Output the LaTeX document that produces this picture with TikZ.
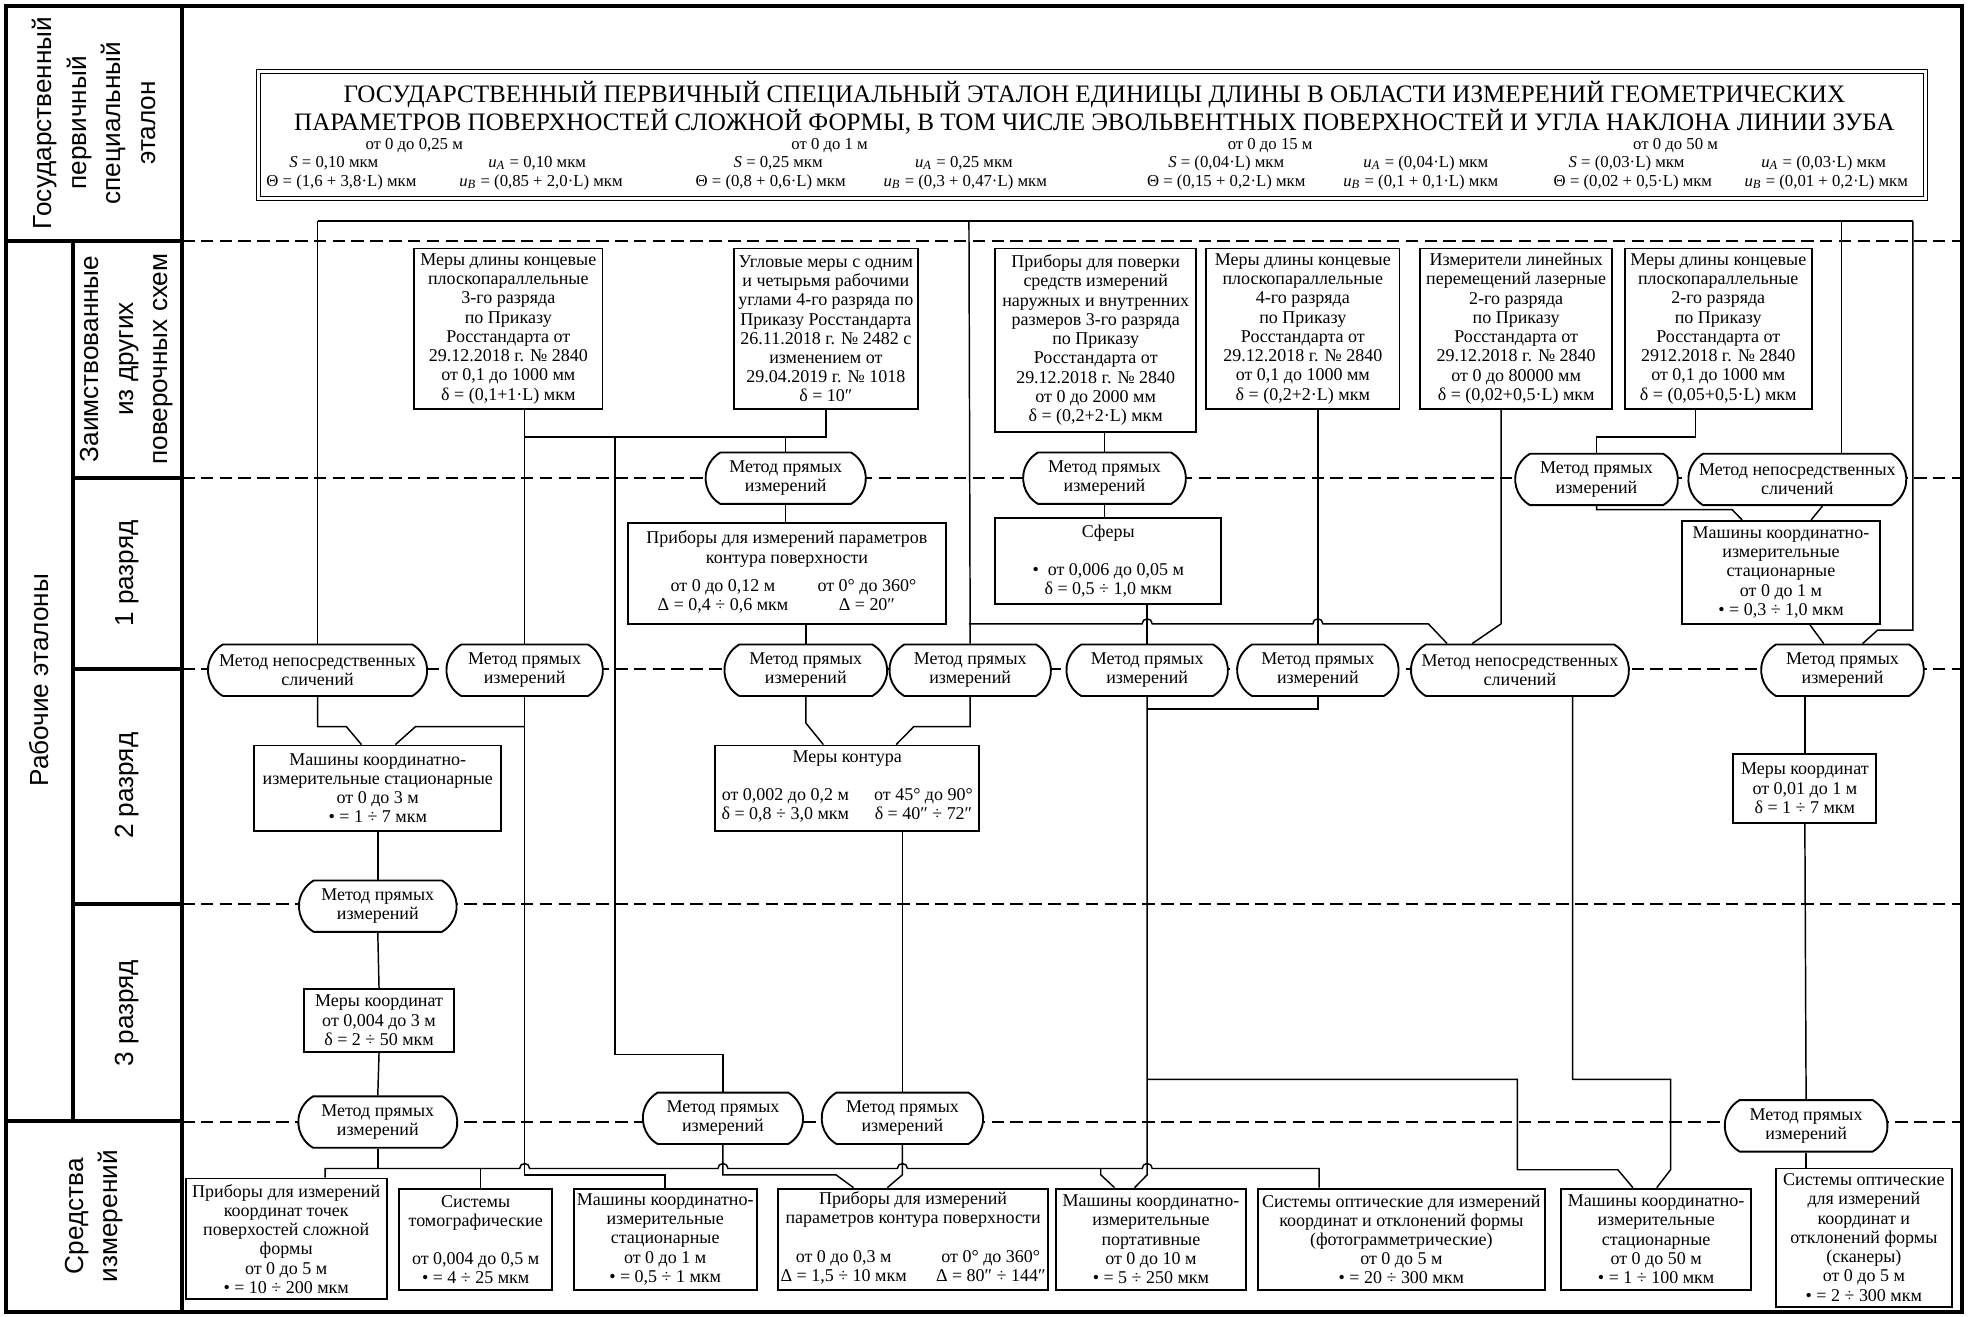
\documentclass[tikz,border=0pt]{standalone}
\usepackage{fontspec}
\setmainfont{Liberation Serif}
\newfontfamily\lblfont{Liberation Sans}
\usetikzlibrary{shapes.misc}
\newcommand\boxfont{\fontsize{8.6}{9.2}\selectfont}
\newcommand\parfont{\fontsize{8}{9}\selectfont}
\newcommand\uA{\textit{u}\textsubscript{\textit{A}}}
\newcommand\uB{\textit{u}\textsubscript{\textit{B}}}

\begin{document}
\begin{tikzpicture}[x=0.6pt,y=-0.6pt,
  sbox/.style={draw,line width=0.9pt,fill=white,align=center,inner sep=1pt,font=\boxfont},
  method/.style={draw,line width=0.9pt,fill=white,rounded rectangle,rounded rectangle arc length=120,
    align=center,inner sep=1pt,font=\boxfont,minimum height=41*0.6pt},
  link/.style={line width=0.7pt},
  rankline/.style={line width=1pt,dash pattern=on 6pt off 3pt},
  side/.style={line width=2pt},
  sidelabel/.style={rotate=90,align=center,font=\lblfont\fontsize{12.5}{16.5}\selectfont},
  bw/.style={minimum width=#1*0.6pt},
  bh/.style={minimum height=#1*0.6pt}]
  \useasboundingbox (0,0) rectangle (1568,1049);
  % границы разрядов
  \foreach \y in {192,381,533,720,894} \draw[rankline] (145,\y) -- (1563,\y);
  % эталон
  \node[draw,double,double distance=1.6pt,line width=0.5pt,fill=white,bw=1328,bh=101] (etalon) at (870,107.5) {};
  \node[font=\fontsize{12}{13.2}\selectfont,align=center,inner sep=0pt] (etatitle) at (872,86)
    {ГОСУДАРСТВЕННЫЙ ПЕРВИЧНЫЙ СПЕЦИАЛЬНЫЙ ЭТАЛОН ЕДИНИЦЫ ДЛИНЫ В ОБЛАСТИ ИЗМЕРЕНИЙ ГЕОМЕТРИЧЕСКИХ\\
     ПАРАМЕТРОВ ПОВЕРХНОСТЕЙ СЛОЖНОЙ ФОРМЫ, В ТОМ ЧИСЛЕ ЭВОЛЬВЕНТНЫХ ПОВЕРХНОСТЕЙ И УГЛА НАКЛОНА ЛИНИИ ЗУБА};
  \foreach \i/\rx/\sx/\tx/\ax/\bx/\rng/\sv/\tv/\av/\bv in {
    1/330/266/272/428/431/{от 0 до 0,25 м}/{0,10 мкм}/{(1,6 + 3,8·L) мкм}/{0,10 мкм}/{(0,85 + 2,0·L) мкм},
    2/661/620/614/768/769/{от 0 до 1 м}/{0,25 мкм}/{(0,8 + 0,6·L) мкм}/{0,25 мкм}/{(0,3 + 0,47·L) мкм},
    3/1012/977/977/1136/1132/{от 0 до 15 м}/{(0,04·L) мкм}/{(0,15 + 0,2·L) мкм}/{(0,04·L) мкм}/{(0,1 + 0,1·L) мкм},
    4/1335/1296/1301/1453/1455/{от 0 до 50 м}/{(0,03·L) мкм}/{(0,02 + 0,5·L) мкм}/{(0,03·L) мкм}/{(0,01 + 0,2·L) мкм}}
  {
    \node[font=\parfont,inner sep=0pt] (rng\i) at (\rx,116) {\rng};
    \node[font=\parfont,inner sep=0pt] (sval\i) at (\sx,130) {\textit{S} = \sv};
    \node[font=\parfont,inner sep=0pt] (aval\i) at (\ax,130) {\uA{} = \av};
    \node[font=\parfont,inner sep=0pt] (tval\i) at (\tx,145) {Θ = \tv};
    \node[font=\parfont,inner sep=0pt] (bval\i) at (\bx,145) {\uB{} = \bv};
  }
  % заимствованные из других поверочных схем
  \node[sbox,bw=150,bh=128] (kmera3) at (405,262) {Меры длины концевые\\плоскопараллельные\\3-го разряда\\по Приказу\\Росстандарта от\\29.12.2018 г. № 2840\\от 0,1 до 1000 мм\\δ = (0,1+1·L) мкм};
  \node[sbox,bw=147,bh=128] (uglmera) at (658,262) {Угловые меры с одним\\и четырьмя рабочими\\углами 4-го разряда по\\Приказу Росстандарта\\26.11.2018 г. № 2482 с\\изменением от\\29.04.2019 г. № 1018\\δ = 10″};
  \node[sbox,bw=160,bh=146] (pribpov) at (873,271) {Приборы для поверки\\средств измерений\\наружных и внутренних\\размеров 3-го разряда\\по Приказу\\Росстандарта от\\29.12.2018 г. № 2840\\от 0 до 2000 мм\\δ = (0,2+2·L) мкм};
  \node[sbox,bw=154,bh=128] (kmera4) at (1038,262) {Меры длины концевые\\плоскопараллельные\\4-го разряда\\по Приказу\\Росстандарта от\\29.12.2018 г. № 2840\\от 0,1 до 1000 мм\\δ = (0,2+2·L) мкм};
  \node[sbox,bw=153,bh=128] (izmlaz) at (1208,262) {Измерители линейных\\перемещений лазерные\\2-го разряда\\по Приказу\\Росстандарта от\\29.12.2018 г. № 2840\\от 0 до 80000 мм\\δ = (0,02+0,5·L) мкм};
  \node[sbox,bw=149,bh=128] (kmera2) at (1369,262) {Меры длины концевые\\плоскопараллельные\\2-го разряда\\по Приказу\\Росстандарта от\\2912.2018 г. № 2840\\от 0,1 до 1000 мм\\δ = (0,05+0,5·L) мкм};
  % методы на границе 1 разряда
  \node[method,bw=131] (mp1) at (626,381) {Метод прямых\\измерений};
  \node[method,bw=133] (mp2) at (880,381) {Метод прямых\\измерений};
  \node[method,bw=133] (mp3) at (1272,382) {Метод прямых\\измерений};
  \node[method,bw=177] (mns1) at (1432,382) {Метод непосредственных\\сличений};
  % 1 разряд
  \node[sbox,bw=254,bh=80] (kontpr) at (627,457) {Приборы для измерений параметров\\контура поверхности\\[4pt]
    \begin{tabular}{@{}c@{\hspace{14pt}}c@{}}от 0 до 0,12 м & от 0° до 360°\\Δ = 0,4 ÷ 0,6 мкм & Δ = 20″\end{tabular}};
  \node[sbox,bw=180,bh=68] (sfery) at (883,447) {Сферы\\[9pt]•\ \ от 0,006 до 0,05 м\\δ = 0,5 ÷ 1,0 мкм};
  \node[sbox,bw=158,bh=82] (kim1) at (1419,456) {Машины координатно-\\измерительные\\стационарные\\от 0 до 1 м\\• = 0,3 ÷ 1,0 мкм};
  % методы на границе 2 разряда
  \node[method,bw=178] (mns2) at (253,534) {Метод непосредственных\\сличений};
  \node[method,bw=128] (mp4) at (418,534) {Метод прямых\\измерений};
  \node[method,bw=133] (mp5) at (642,534) {Метод прямых\\измерений};
  \node[method,bw=132] (mp6) at (773,534) {Метод прямых\\измерений};
  \node[method,bw=132] (mp7) at (914,534) {Метод прямых\\измерений};
  \node[method,bw=132] (mp8) at (1050,534) {Метод прямых\\измерений};
  \node[method,bw=177] (mns3) at (1211,534) {Метод непосредственных\\сличений};
  \node[method,bw=133] (mp9) at (1468,534) {Метод прямых\\измерений};
  % 2 разряд
  \node[sbox,bw=197,bh=68] (kim3) at (301,628) {Машины координатно-\\измерительные стационарные\\от 0 до 3 м\\• = 1 ÷ 7 мкм};
  \node[sbox,bw=210,bh=68] (merkont) at (675,628) {Меры контура\\[9pt]
    \begin{tabular}{@{}c@{\hspace{12pt}}c@{}}от 0,002 до 0,2 м & от 45° до 90°\\δ = 0,8 ÷ 3,0 мкм & δ = 40″ ÷ 72″\end{tabular}};
  \node[sbox,bw=114,bh=55] (merkoord2) at (1438,628) {Меры координат\\от 0,01 до 1 м\\δ = 1 ÷ 7 мкм};
  % 3 разряд
  \node[method,bw=129] (mp10) at (301,722) {Метод прямых\\измерений};
  \node[sbox,bw=120,bh=50] (merkoord3) at (302,813) {Меры координат\\от 0,004 до 3 м\\δ = 2 ÷ 50 мкм};
  \node[method,bw=130] (mp11) at (301,894) {Метод прямых\\измерений};
  \node[method,bw=131] (mp12) at (576,891) {Метод прямых\\измерений};
  \node[method,bw=132] (mp13) at (719,891) {Метод прямых\\измерений};
  \node[method,bw=133] (mp14) at (1439,897) {Метод прямых\\измерений};
  % средства измерений
  \node[sbox,bw=160,bh=96] (prkoord) at (228,987) {Приборы для измерений\\координат точек\\поверхостей сложной\\формы\\от 0 до 5 м\\• = 10 ÷ 200 мкм};
  \node[sbox,bw=122,bh=81] (tomogr) at (379,987.5) {Системы\\томографические\\[9pt]от 0,004 до 0,5 м\\• = 4 ÷ 25 мкм};
  \node[sbox,bw=146,bh=81] (kim4) at (530,987.5) {Машины координатно-\\измерительные\\стационарные\\от 0 до 1 м\\• = 0,5 ÷ 1 мкм};
  \node[sbox,bw=215,bh=81] (kontpr2) at (727.5,987.5) {Приборы для измерений\\параметров контура поверхности\\[9pt]
    \begin{tabular}{@{}c@{\hspace{14pt}}c@{}}от 0 до 0,3 м & от 0° до 360°\\Δ = 1,5 ÷ 10 мкм & Δ = 80″ ÷ 144″\end{tabular}};
  \node[sbox,bw=152,bh=81] (kimport) at (917,987.5) {Машины координатно-\\измерительные\\портативные\\от 0 до 10 м\\• = 5 ÷ 250 мкм};
  \node[sbox,bw=229,bh=81] (optfoto) at (1116.5,987.5) {Системы оптические для измерений\\координат и отклонений формы\\(фотограмметрические)\\от 0 до 5 м\\• = 20 ÷ 300 мкм};
  \node[sbox,bw=151,bh=81] (kim5) at (1319.5,987.5) {Машины координатно-\\измерительные\\стационарные\\от 0 до 50 м\\• = 1 ÷ 100 мкм};
  \node[sbox,bw=140,bh=110] (optskan) at (1485,986) {Системы оптические\\для измерений\\координат и\\отклонений формы\\(сканеры)\\от 0 до 5 м\\• = 2 ÷ 300 мкм};
  % шина от эталона
  \draw[link] (253,176) -- (1524,176);
  \draw[link] (253,176) -- (mns2.north);
  \draw[link] (772,176) -- (mp6.north);
  \draw[link] (1467,176) -- (1467,176 |- mns1.north);
  \draw[link] (1524,176) -- (1524,502) -- (1496,502) -- (1484,176 |- mp9.north);
  % заимствованные -> методы
  \draw[link] (mp4.north |- kmera3.south) -- (mp4.north);
  \draw[link] (uglmera.south) -- (658,348) -- (418,348);
  \draw[link] (626,348) -- (mp1.north);
  \draw[link] (490,348) -- (490,840) -| (mp12.north);
  \draw[link] (mp2.north |- pribpov.south) -- (mp2.north);
  \draw[link] (mp8.north |- kmera4.south) -- (mp8.north);
  \draw[link] (1196,176 |- izmlaz.south) -- (1196,497) -- (1173,176 |- mns3.north);
  \draw[link] (1351,176 |- kmera2.south) -- (1351,348) -| (mp3.north);
  % 1 разряд
  \draw[link] (mp1.south) -- (mp1.south |- kontpr.north);
  \draw[link] (mp5.north |- kontpr.south) -- (mp5.north);
  \draw[link] (mp2.south) -- (mp2.south |- sfery.north);
  \draw[link] (mp7.north |- sfery.south) -- (mp7.north);
  \draw[link] (772,497) -- (910,497) arc[start angle=180,end angle=0,radius=2.4pt]
    -- (1046,497) arc[start angle=180,end angle=0,radius=2.4pt] -- (1138,497) -- (1153,176 |- mns3.north);
  \draw[link] (mp3.south) |- (1380,406) -- (1388,176 |- kim1.north);
  \draw[link] (1452,176 |- mns1.south) -- (1443,176 |- kim1.north);
  \draw[link] (1442,176 |- kim1.south) -- (1453,176 |- mp9.north);
  % 2 разряд
  \draw[link] (mns2.south) -- (253,579) -- (276,579) -- (288,176 |- kim3.north);
  \draw[link] (mp4.south) -- (418,936) -| (kim4.north);
  \draw[link] (418,579) -- (331,579) -- (315,176 |- kim3.north);
  \draw[link] (mp5.south) -- (642,576) -- (656,176 |- merkont.north);
  \draw[link] (mp6.south) -- (773,579) -- (728,579) -- (714,176 |- merkont.north);
  \draw[link] (mp8.south) -- (1050,565) -- (914,565);
  \draw[link] (mp7.south) -- (914,936) -- (904,176 |- kimport.north);
  \draw[link] (914,860) -- (1209,860) -- (1209,932) -- (1289,932) -- (1301,176 |- kim5.north);
  \draw[link] (1253,176 |- mns3.south) -- (1253,860) -- (1331,860) -- (1331,932) -- (1320,176 |- kim5.north);
  \draw[link] (merkoord2.north |- mp9.south) -- (merkoord2.north);
  \draw[link] (merkoord2.south) -- (mp14.north);
  % 3 разряд
  \draw[link] (kim3.south) -- (mp10.north);
  \draw[link] (mp10.south) -- (merkoord3.north);
  \draw[link] (merkoord3.south) -- (mp11.north);
  \draw[link] (mp13.north |- merkont.south) -- (mp13.north);
  % средства измерений
  \draw[link] (mp11.south) -- (301,931);
  \draw[link] (259,176 |- prkoord.north) -- (259,931) -- (414,931) arc[start angle=180,end angle=0,radius=2.4pt]
    -- (572,931) arc[start angle=180,end angle=0,radius=2.4pt]
    -- (715,931) arc[start angle=180,end angle=0,radius=2.4pt]
    -- (910,931) arc[start angle=180,end angle=0,radius=2.4pt]
    -- (1051,931) -- (1051,176 |- optfoto.north);
  \draw[link] (383,931) -- (383,176 |- tomogr.north);
  \draw[link] (877,931) -- (877,936) -- (888,176 |- kimport.north);
  \draw[link] (mp12.south) -- (576,936) -- (666,936) -- (680,176 |- kontpr2.north);
  \draw[link] (mp13.south) -- (719,936) -- (707,176 |- kontpr2.north);
  \draw[link] (mp14.south) -- (mp14.south |- optskan.north);
  % боковая колонка
  \draw[side] (5,5) rectangle (1563,1045);
  \draw[side] (145,5) -- (145,1045);
  \draw[side] (5,192) -- (145,192);
  \draw[side] (5,893) -- (145,893);
  \draw[side] (58,192) -- (58,893);
  \foreach \y in {381,533,720} \draw[side] (58,\y) -- (145,\y);
  \node[sidelabel] (lgos) at (75,98) {Государственный\\первичный\\специальный\\эталон};
  \node[sidelabel] (lrab) at (31,542) {Рабочие эталоны};
  \node[sidelabel] (lzaim) at (101,286) {Заимствованные\\из других\\поверочных схем};
  \node[sidelabel] (lraz1) at (101,457) {1 разряд};
  \node[sidelabel] (lraz2) at (101,626) {2 разряд};
  \node[sidelabel] (lraz3) at (101,807) {3 разряд};
  \node[sidelabel] (lsi) at (75,969) {Средства\\измерений};
\end{tikzpicture}
\end{document}
